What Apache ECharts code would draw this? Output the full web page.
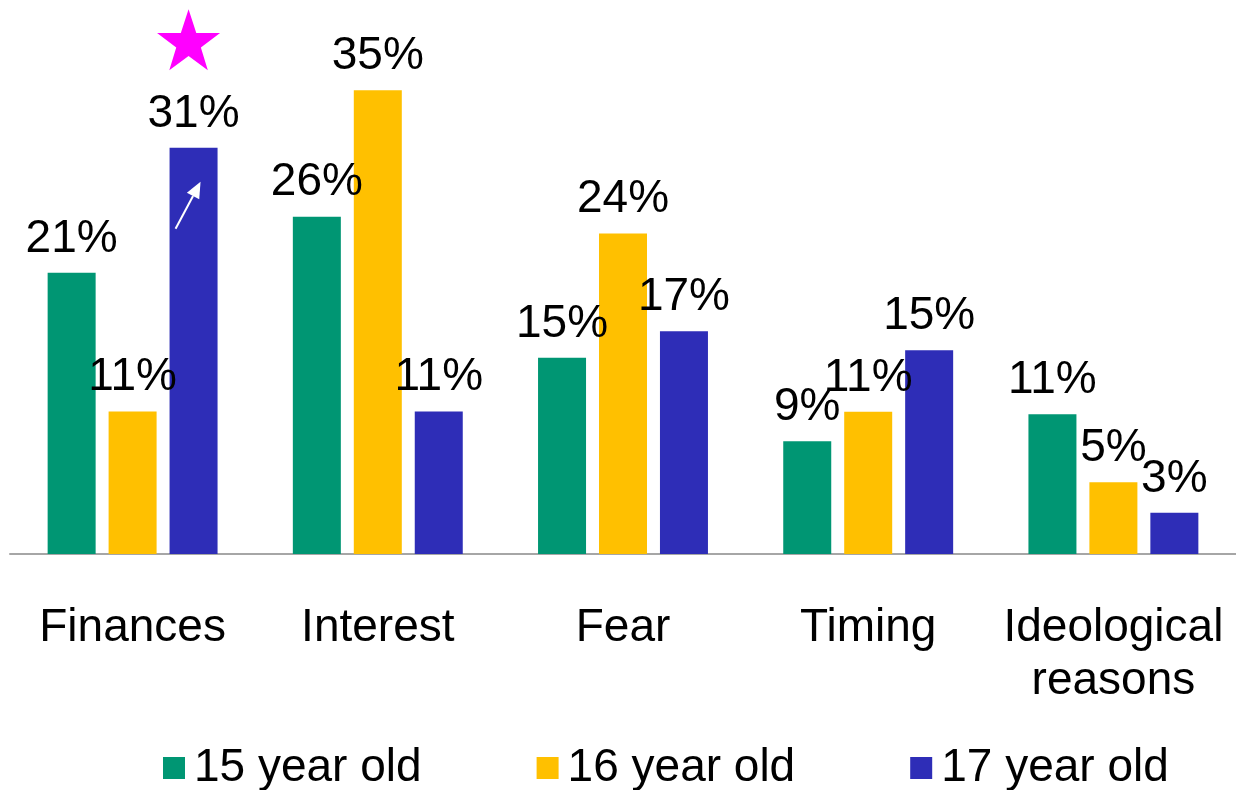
<!DOCTYPE html>
<html>
<head>
<meta charset="utf-8">
<script src="https://cdn.jsdelivr.net/npm/echarts@6/dist/echarts.min.js"></script>
<style>
html,body{margin:0;padding:0;background:#fff;}
#c{width:1236px;height:790px;}
</style>
</head>
<body>
<div id="c"></div>
<script>
const categories = ['Finances', 'Interest', 'Fear', 'Timing', 'Ideological\nreasons'];
const seriesNames = ['15 year old', '16 year old', '17 year old'];
const age15 = [21.3, 25.55, 14.86, 8.55, 10.59];
const age16 = [10.8, 35.14, 24.28, 10.77, 5.44];
const age17 = [30.77, 10.8, 16.88, 15.44, 3.12];
const colors = ['#009673', '#FFC000', '#2E2DB7'];
const highlight = { category: 0, series: 2 };

const FONT = '"Liberation Sans", Arial, sans-serif';
const chart = echarts.init(document.getElementById('c'), null, { renderer: 'canvas' });

const starPath = 'path://M50,0 L61.8,35.1 L98.1,35.1 L68.8,56.7 L79.4,90.5 L50,69.1 L20.6,90.5 L31.2,56.7 L1.9,35.1 L38.2,35.1 Z';

function makeSeries(name, data, color, idx) {
  const s = {
    name: name,
    type: 'bar',
    data: data,
    barWidth: 48,
    barGap: '27%',
    itemStyle: { color: color },
    label: {
      show: true,
      position: 'top',
      distance: 11,
      color: '#000',
      fontSize: 46,
      fontFamily: FONT,
      formatter: p => Math.round(p.value) + '%'
    },
    emphasis: { disabled: true },
    z: 2
  };
  if (idx === highlight.series) {
    s.markPoint = {
      symbol: starPath,
      symbolSize: [63, 61],
      symbolOffset: [-5, -108],
      itemStyle: { color: '#FF00FF' },
      label: { show: false },
      silent: true,
      data: [{ coord: [highlight.category, data[highlight.category]] }]
    };
  }
  return s;
}

chart.setOption({
  animation: false,
  backgroundColor: '#fff',
  textStyle: { fontFamily: FONT },
  grid: { left: 10, width: 1230, top: 26, bottom: 236, containLabel: false },
  legend: {
    data: seriesNames,
    left: 158,
    top: 740,
    itemWidth: 22,
    itemHeight: 22,
    itemGap: 115,
    icon: 'rect',
    textStyle: { fontSize: 46, color: '#000', fontFamily: FONT, padding: [0, 0, 0, 4] }
  },
  xAxis: {
    type: 'category',
    data: categories,
    axisLine: { lineStyle: { color: '#A6A6A6', width: 2 } },
    axisTick: { show: false },
    axisLabel: {
      color: '#000',
      fontSize: 46,
      fontFamily: FONT,
      lineHeight: 53,
      margin: 48,
      interval: 0
    }
  },
  yAxis: {
    type: 'value',
    min: 0,
    max: 40,
    show: false,
    splitLine: { show: false }
  },
  series: [
    makeSeries(seriesNames[0], age15, colors[0], 0),
    makeSeries(seriesNames[1], age16, colors[1], 1),
    makeSeries(seriesNames[2], age17, colors[2], 2)
  ]
});

// White arrow inside the highlighted bar, placed from the bar's computed layout
const layout = chart.getModel().getSeriesByIndex(highlight.series).getData().getItemLayout(highlight.category);
if (layout) {
  const bx = layout.x;
  const top = Math.min(layout.y, layout.y + layout.height);
  const x1 = bx + 6, y1 = top + 81, x2 = bx + 31, y2 = top + 34;
  const ang = Math.atan2(y2 - y1, x2 - x1);
  const hl = 16, hw = 7;
  const baseX = x2 - hl * Math.cos(ang), baseY = y2 - hl * Math.sin(ang);
  const px = -Math.sin(ang) * hw, py = Math.cos(ang) * hw;
  chart.setOption({
    graphic: [
      { type: 'line', shape: { x1: x1, y1: y1, x2: baseX, y2: baseY }, style: { stroke: '#fff', lineWidth: 2 }, z: 10 },
      { type: 'polygon', shape: { points: [[x2, y2], [baseX + px, baseY + py], [baseX - px, baseY - py]] }, style: { fill: '#fff' }, z: 10 }
    ]
  });
}
</script>
</body>
</html>
